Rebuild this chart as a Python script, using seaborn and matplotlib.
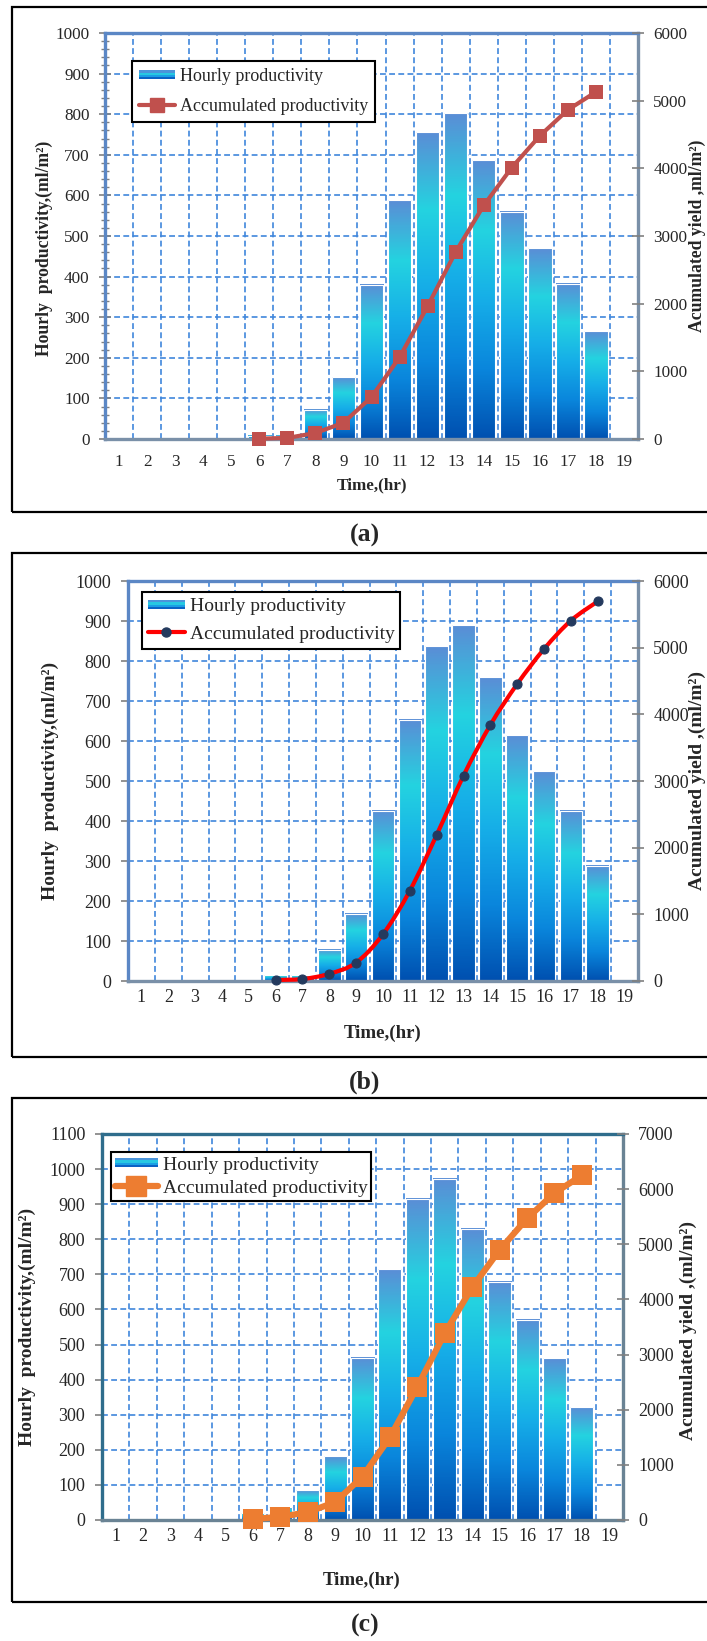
import numpy as np
import seaborn as sns
import matplotlib
matplotlib.use("Agg")
from matplotlib import pyplot as plt
from matplotlib.colors import LinearSegmentedColormap
from matplotlib.patches import Rectangle, PathPatch
from matplotlib.path import Path
from matplotlib.lines import Line2D
from matplotlib.legend_handler import HandlerBase
from matplotlib.ticker import MultipleLocator, NullFormatter

hours = list(range(1, 20))
acc_hours = list(range(6, 19))

hourly_a = [0, 0, 0, 0, 0, 8, 8, 72, 152, 380, 588, 755, 802, 686, 560, 470, 383, 265, 0]
acc_a = [5, 16, 88, 240, 620, 1208, 1963, 2765, 3451, 4011, 4481, 4864, 5129]

hourly_b = [0, 0, 0, 0, 0, 15, 15, 78, 168, 426, 653, 837, 889, 760, 614, 525, 426, 288, 0]
acc_b = [15, 30, 108, 276, 702, 1355, 2192, 3081, 3841, 4455, 4980, 5406, 5694]

hourly_c = [0, 0, 0, 0, 0, 19, 37, 85, 182, 463, 714, 916, 972, 830, 679, 571, 461, 321, 0]
acc_c = [19, 56, 141, 323, 786, 1500, 2416, 3388, 4218, 4897, 5468, 5929, 6250]

label_hourly = "Hourly productivity"
label_acc = "Accumulated productivity"
ylab_left = "Hourly  productivity,(ml/m²)"

sns.set_style("white")
plt.rcParams["font.family"] = ["Liberation Serif", "DejaVu Serif"]

W, H = 707, 1641
fig = plt.figure(figsize=(W / 100, H / 100), dpi=100)


def fx(px):
    return px / W


def fy(py):
    return 1 - py / H


bar_cmap = LinearSegmentedColormap.from_list(
    "bar_grad", ["#0050B0", "#0A86DC", "#16AEE8", "#24D3E0", "#5A8ED6"])
grad = np.linspace(0, 1, 200).reshape(-1, 1)
grid_c = "#3F86DC"
tick_c = "#808080"


class GradientHandler(HandlerBase):
    def create_artists(self, legend, orig_handle, xdescent, ydescent,
                       width, height, fontsize, trans):
        cols = ["#0B62C4", "#1A9FE4", "#27C8E2", "#4B94DA"]
        band = height * 0.7
        y0 = -ydescent + (height - band) / 2
        return [Rectangle((-xdescent, y0 + i * band / len(cols)), width,
                          band / len(cols), facecolor=c, edgecolor="none",
                          transform=trans) for i, c in enumerate(cols)]


def panel(left, right, top, bottom, hourly):
    ax = fig.add_axes([fx(left), fy(bottom), fx(right) - fx(left), (bottom - top) / H])
    sns.barplot(x=hours, y=hourly, order=hours, ax=ax, color="white",
                width=0.84, edgecolor="white", linewidth=0.8, zorder=3)
    for bar in ax.patches:
        h = bar.get_height()
        if h > 0:
            x0 = bar.get_x()
            ax.imshow(grad, extent=(x0, x0 + bar.get_width(), 0, h), origin="lower",
                      aspect="auto", cmap=bar_cmap, zorder=2.5)
        bar.set_facecolor("none")
    ax.set_axisbelow(True)
    ax2 = ax.twinx()
    return ax, ax2


def finish(ax, ax2, lmax, rmax, fs, spine_c, spine_c2, center_ticks):
    ax.set_xlim(-0.5, 18.5)
    ax.set_ylim(0, lmax)
    ax2.set_ylim(0, rmax)
    ax.set_xticks(np.arange(-0.5, 19, 1))
    ax.xaxis.set_major_formatter(NullFormatter())
    ax.set_xticks(range(19), labels=[str(h) for h in hours], minor=True)
    ax.set_yticks(np.arange(0, lmax + 1, 100))
    ax2.set_yticks(np.arange(0, rmax + 1, 1000))
    ax.set_xlabel("")
    ax.set_ylabel("")
    ax2.set_ylabel("")
    ax.grid(axis="both", which="major", color=grid_c, linestyle=(0, (3.5, 2)), lw=1.2)
    ax.tick_params(axis="x", which="major", direction="out", length=5, width=1.2,
                   color=tick_c)
    ax.tick_params(axis="x", which="minor", direction="out",
                   length=5 if center_ticks else 0, width=1.2, color=tick_c,
                   labelsize=fs, pad=6)
    ax.tick_params(axis="y", which="major", direction="inout", length=8, width=1.2,
                   color=tick_c, labelsize=fs, pad=7)
    ax2.tick_params(axis="y", which="major", direction="inout", length=8, width=1.2,
                    color=tick_c, labelsize=fs, pad=7)
    for side in ["left", "top"]:
        ax.spines[side].set_color(spine_c)
        ax.spines[side].set_linewidth(2.4)
    for side in ["bottom", "right"]:
        ax.spines[side].set_color(spine_c2)
        ax.spines[side].set_linewidth(2.4)
    for s in ax.spines.values():
        s.set_zorder(4)
    for s in ax2.spines.values():
        s.set_visible(False)
    for ln in ax2.lines:
        ln.set_clip_on(False)


def add_legend(ax2, line_handle, x0, y0, fs, bpad, lspace, hlen):
    grad_handle = Rectangle((0, 0), 1, 1)
    leg = ax2.legend([grad_handle, line_handle], [label_hourly, label_acc],
                     handler_map={grad_handle: GradientHandler()},
                     loc="upper left", bbox_to_anchor=(fx(x0), fy(y0)),
                     bbox_transform=fig.transFigure, borderaxespad=0,
                     fontsize=fs, frameon=True, fancybox=False, framealpha=1,
                     edgecolor="black", borderpad=bpad, labelspacing=lspace,
                     handlelength=hlen, handletextpad=0.25)
    leg.get_frame().set_linewidth(1.5)
    leg.set_zorder(10)


def texts(tag, ycx, ycy, xlx, xly, rx, ry, tagy, rlabel, fs):
    fig.text(fx(ycx), fy(ycy), ylab_left, rotation=90, ha="center", va="center",
             fontsize=fs, fontweight="bold")
    fig.text(fx(xlx), fy(xly), "Time,(hr)", ha="center", va="center",
             fontsize=fs - 0.4, fontweight="bold")
    fig.text(fx(rx), fy(ry), rlabel, rotation=90, ha="center", va="center",
             fontsize=fs, fontweight="bold")
    fig.text(fx(365), fy(tagy), tag, ha="center", va="center",
             fontsize=18.5, fontweight="bold")


# outer boxes
for top, bottom in [(7, 512), (553, 1057), (1098, 1602)]:
    fig.add_artist(Rectangle((fx(12), fy(bottom)), fx(740) - fx(12), (bottom - top) / H,
                             transform=fig.transFigure, fill=False, edgecolor="black",
                             lw=1.6, clip_on=False))

# panel (a)
ax, ax2 = panel(105, 638, 33, 439, hourly_a)
sns.pointplot(x=acc_hours, y=acc_a, order=hours, ax=ax2, color="#C0504D", markers="s",
              markersize=9.5, linewidth=3, markeredgewidth=0, errorbar=None)
finish(ax, ax2, 1000, 6000, 12.3, "#5B87C5", "#7A90A8", True)
ax.yaxis.set_minor_locator(MultipleLocator(20))
ax.tick_params(axis="y", which="minor", direction="inout", length=6, width=1,
               color=tick_c)
add_legend(ax2, Line2D([], [], color="#C0504D", marker="s", markersize=9.5, lw=3),
           132, 61, 13, 0.4, 0.7, 2.0)
texts("(a)", 44, 248, 372, 485, 697, 236, 535, "Acumulated yield ,ml/m²)", 12.7)

# panel (b)
ax, ax2 = panel(128, 638, 581, 981, hourly_b)
sns.pointplot(x=acc_hours, y=acc_b, order=hours, ax=ax2, color="#FF0000", markers="o",
              markersize=6.5, linestyles="none", markerfacecolor="#243A5E",
              markeredgecolor="#243A5E", markeredgewidth=0.8, errorbar=None)
pts = ax2.lines[-1].get_xydata()
pts = pts[~np.isnan(pts).any(axis=1)]
ext = np.vstack([pts[0], pts, pts[-1]])
verts, codes = [pts[0]], [Path.MOVETO]
for i in range(len(pts) - 1):
    p0, p1, p2, p3 = ext[i], ext[i + 1], ext[i + 2], ext[i + 3]
    verts += [p1 + (p2 - p0) / 6, p2 - (p3 - p1) / 6, p2]
    codes += [Path.CURVE4] * 3
ax2.add_patch(PathPatch(Path(verts, codes), fill=False, edgecolor="#FF0000", lw=3,
                        zorder=2.8, clip_on=False))
ax2.lines[-1].set_zorder(3)
finish(ax, ax2, 1000, 6000, 13, "#5B87C5", "#7A90A8", False)
ax.tick_params(axis="y", which="major", direction="out", length=5)
add_legend(ax2, Line2D([], [], color="#FF0000", marker="o", markersize=6.5, lw=3,
                       markerfacecolor="#243A5E", markeredgecolor="#243A5E"),
           142, 592, 14, 0.3, 0.5, 1.9)
texts("(b)", 50, 781, 383, 1033, 697, 781, 1082, "Acumulated yield ,(ml/m²)", 14)

# panel (c)
ax, ax2 = panel(102, 623, 1134, 1520, hourly_c)
sns.pointplot(x=acc_hours, y=acc_c, order=hours, ax=ax2, color="#ED7D31", markers="s",
              markersize=14, linewidth=4.5, markeredgewidth=0, errorbar=None)
finish(ax, ax2, 1100, 7000, 13, "#2F6D8C", "#6A8394", False)
ax.tick_params(axis="y", which="major", direction="out", length=5)
add_legend(ax2, Line2D([], [], color="#ED7D31", marker="s", markersize=14, lw=4.5),
           111, 1152, 14, 0.2, 0.3, 2.2)
texts("(c)", 27, 1327, 362, 1580, 688, 1330, 1625, "Acumulated yield ,(ml/m²)", 14)

fig.savefig("out.png", dpi=100)
